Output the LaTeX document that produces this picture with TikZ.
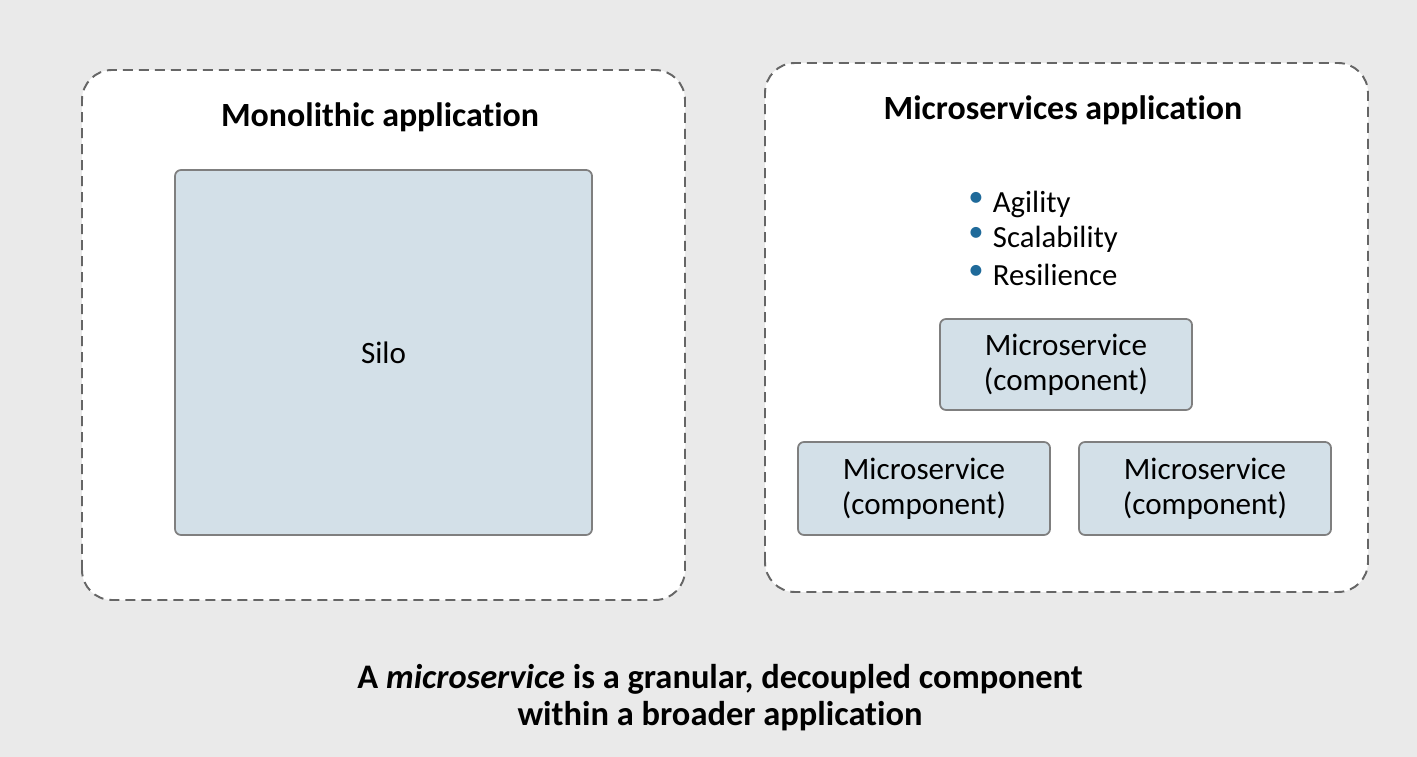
\documentclass[tikz,border=0pt]{standalone}
\usepackage{fontspec}
\setmainfont{Carlito}[Ligatures={NoCommon}]
\usetikzlibrary{positioning}

\definecolor{bggray}{HTML}{EAEAEA}
\definecolor{boxblue}{HTML}{D3E0E8}
\definecolor{boxline}{HTML}{7F7F7F}
\definecolor{dashline}{HTML}{666666}
\definecolor{dotblue}{HTML}{1F6A9A}

\tikzset{
  appbox/.style={draw=dashline, fill=white, line width=1.1pt, dash pattern=on 0.2cm off 0.12cm, rounded corners=0.6cm},
  compbox/.style={draw=boxline, fill=boxblue, line width=1pt, rounded corners=0.12cm, align=center, font=\fontsize{17.7}{20}\selectfont},
  bulletitem/.style={anchor=west, inner sep=0pt, font=\fontsize{17.5}{20}\selectfont}
}

\begin{document}
\begin{tikzpicture}

% background
\useasboundingbox (0,0) rectangle (28.34,15.12);
\fill[bggray] (-0.1,-0.1) rectangle (28.44,15.22);

% the two applications
\draw[appbox] (1.64,3.12) rectangle (13.70,13.72);
\draw[appbox] (15.30,3.28) rectangle (27.36,13.86);

% monolithic side
\node[font=\bfseries\fontsize{19.3}{22}\selectfont] at (7.60,12.78) (monotitle) {Monolithic application};
\node[compbox, minimum width=8.34cm, minimum height=7.30cm] at (7.67,8.07) (silo) {Silo};

% microservices side
\node[font=\bfseries\fontsize{19.3}{22}\selectfont] at (21.26,12.92) (microtitle) {Microservices application};

\node[bulletitem] at (19.36,11.04) (agility) {\textcolor{dotblue}{\raisebox{0.4ex}{\textbullet}}\hspace{0.3em}Agility};
\node[bulletitem] at (19.36,10.34) (scalab) {\textcolor{dotblue}{\raisebox{0.4ex}{\textbullet}}\hspace{0.3em}Scalability};
\node[bulletitem] at (19.36,9.62) (resil) {\textcolor{dotblue}{\raisebox{0.4ex}{\textbullet}}\hspace{0.3em}Resilience};

\node[compbox, minimum width=5.04cm, minimum height=1.82cm] at (21.32,7.83) (mstop) {Microservice\\(component)};
\node[compbox, minimum width=5.04cm, minimum height=1.86cm] at (18.48,5.35) (msleft) {Microservice\\(component)};
\node[compbox, minimum width=5.04cm, minimum height=1.86cm] at (24.10,5.35) (msright) {Microservice\\(component)};

% caption
\node[align=center, font=\bfseries\fontsize{19.6}{21}\selectfont] at (14.40,1.17) (caption) {A \textit{microservice} is a granular, decoupled component\\within a broader application};

\end{tikzpicture}
\end{document}
